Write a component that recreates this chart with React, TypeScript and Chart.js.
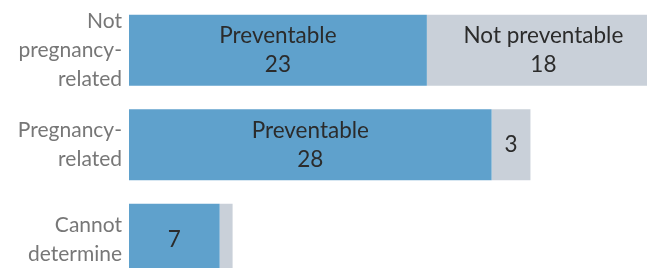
import React, { useEffect, useRef } from "react";
import { Chart, registerables } from "chart.js";

Chart.register(...registerables);

const categories: string[][] = [
  ["Not", "pregnancy-", "related"],
  ["Pregnancy-", "related"],
  ["Cannot", "determine"],
];
const seriesNames = ["Preventable", "Not preventable"];
const preventable = [23, 28, 7];
const notPreventable = [18, 3, 1];
const xMax = 40;

const FONT = "Lato";

const segLabels = {
  id: "segLabels",
  afterDatasetsDraw(chart: any) {
    const ctx = chart.ctx;
    ctx.save();
    ctx.font = `22.5px ${FONT}`;
    ctx.fillStyle = "#2b2b2b";
    ctx.textAlign = "center";
    ctx.textBaseline = "middle";
    chart.data.datasets.forEach((ds: any, di: number) => {
      const meta = chart.getDatasetMeta(di);
      meta.data.forEach((bar: any, i: number) => {
        const v = ds.data[i];
        const left = Math.min(bar.x, bar.base);
        const right = Math.max(bar.x, bar.base);
        const w = right - left;
        const cx = (left + right) / 2;
        const cy = bar.y;
        const name = ds.label as string;
        const nw = ctx.measureText(name).width;
        const vs = String(v);
        const vw = ctx.measureText(vs).width;
        if (nw + 20 <= w) {
          ctx.fillText(name, cx, cy - 14.5);
          ctx.fillText(vs, cx, cy + 14.5);
        } else if (vw + 16 <= w) {
          ctx.fillText(vs, cx, cy);
        }
      });
    });
    ctx.restore();
  },
};

export default function App() {
  const ref = useRef<HTMLCanvasElement>(null);
  useEffect(() => {
    if (!ref.current) return;
    const chart = new Chart(ref.current, {
      type: "bar",
      data: {
        labels: categories,
        datasets: [
          {
            label: seriesNames[0],
            data: preventable,
            backgroundColor: "#5fa1cc",
            barPercentage: 0.75,
            categoryPercentage: 1,
          },
          {
            label: seriesNames[1],
            data: notPreventable,
            backgroundColor: "#c9d0d9",
            barPercentage: 0.75,
            categoryPercentage: 1,
          },
        ],
      },
      options: {
        indexAxis: "y",
        responsive: false,
        animation: false,
        events: [],
        layout: { padding: { top: 3, bottom: 3.5, left: 0, right: 0 } },
        plugins: { legend: { display: false }, tooltip: { enabled: false } },
        scales: {
          x: { stacked: true, min: 0, max: xMax, display: false },
          y: {
            stacked: true,
            grid: { display: false, drawTicks: false },
            border: { display: false },
            ticks: {
              color: "#777777",
              padding: 7,
              font: { family: FONT, size: 21, lineHeight: 29 / 21 },
            },
            afterFit: (scale: any) => {
              scale.width = 129;
              scale.paddingTop = 0;
              scale.paddingBottom = 0;
            },
          },
        },
      },
      plugins: [segLabels],
    });
    return () => chart.destroy();
  }, []);
  return (
    <div style={{ position: "absolute", left: 0, top: 0, width: 647, height: 268, overflow: "hidden", background: "#fff" }}>
      <canvas ref={ref} width={647} height={290} style={{ display: "block" }} />
    </div>
  );
}
